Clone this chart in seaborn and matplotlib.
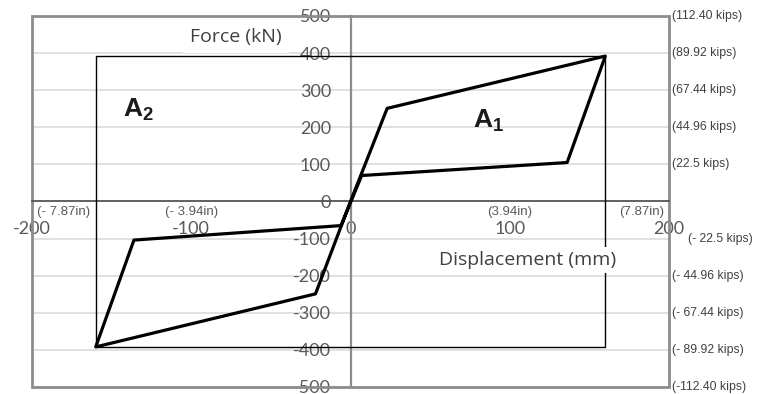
import pandas as pd
import matplotlib.pyplot as plt
import matplotlib.patches as mpatches
import matplotlib.transforms as mtrans
import seaborn as sns

# Hysteresis loop (displacement mm, force kN)
disp = [0, 23, 160, 136, 7, -6, -136, -160, -22, 0]
force = [0, 251, 392, 105, 70, -65, -104, -392, -249, 0]

# Bounding rectangle of the loop
rect_disp = [-160, 160]
rect_force = [-393, 393]

x_ticks = [-200, -100, 0, 100, 200]
x_labels = ['-200', '-100', '0', '100', '200']
y_ticks = [500, 400, 300, 200, 100, 0, -100, -200, -300, -400, -500]
y_labels = ['500', '400', '300', '200', '100', '0', '-100', '-200', '-300', '-400', '-500']

kips_ticks = [500, 400, 300, 200, 100, -100, -200, -300, -400, -500]
kips_labels = ['(112.40 kips)', '(89.92 kips)', '(67.44 kips)', '(44.96 kips)', '(22.5 kips)',
               '(- 22.5 kips)', '(- 44.96 kips)', '(- 67.44 kips)', '(- 89.92 kips)', '(-112.40 kips)']
inch_pos = [-197, -100, 100, 197]
inch_labels = ['(- 7.87in)', '(- 3.94in)', '(3.94in)', '(7.87in)']

sns.set_style("white")
plt.rcParams['font.family'] = ['Lato', 'DejaVu Sans']
plt.rcParams['mathtext.fontset'] = 'custom'
plt.rcParams['mathtext.rm'] = 'Liberation Sans'
plt.rcParams['mathtext.bf'] = 'Liberation Sans:bold'

df = pd.DataFrame({'disp': disp, 'force': force})

fig = plt.figure(figsize=(7.64, 3.94), dpi=100)
ax = fig.add_axes([0.0419, 0.0178, 0.8338, 0.9416])

ax.set_xlim(-200, 200)
ax.set_ylim(-500, 500)
ax.set_yticks(y_ticks)
ax.set_yticklabels(y_labels)
ax.set_xticks(x_ticks)
ax.set_xticklabels(x_labels)
ax.yaxis.grid(True, color='#dcdcdc', lw=1.2, zorder=0)
ax.xaxis.grid(False)
ax.set_axisbelow(True)

# axes cross at zero
ax.spines['left'].set_position(('data', 0))
ax.spines['bottom'].set_position(('data', 0))
ax.spines['left'].set_color('#8c8c8c')
ax.spines['left'].set_linewidth(1.6)
ax.spines['bottom'].set_color('#4d4d4d')
ax.spines['bottom'].set_linewidth(1.2)
ax.spines['top'].set_visible(False)
ax.spines['right'].set_visible(False)
ax.tick_params(axis='both', length=0, labelsize=13, labelcolor='#595959', pad=14)

# outer frame
ax.add_patch(mpatches.Rectangle((0, 0), 1, 1, transform=ax.transAxes, fill=False,
                                ec='#8c8c8c', lw=2, clip_on=False, zorder=2))

# loop and its bounding box
ax.add_patch(mpatches.Rectangle((rect_disp[0], rect_force[0]), rect_disp[1] - rect_disp[0],
                                rect_force[1] - rect_force[0], fill=False, ec='black', lw=1.0, zorder=4))
sns.lineplot(data=df, x='disp', y='force', sort=False, estimator=None, color='black',
             lw=2.3, ax=ax, zorder=5)
ax.set_xlabel('')
ax.set_ylabel('')

# axis titles inside the plot
ax.text(-72, 443, 'Force (kN)', ha='center', va='center', fontsize=14, color='#404040', zorder=3,
        family='Open Sans', bbox=dict(facecolor='white', edgecolor='none', pad=5))
ax.text(111, -158, 'Displacement (mm)', ha='center', va='center', fontsize=14, color='#404040',
        family='Open Sans', zorder=6, bbox=dict(facecolor='white', edgecolor='none', pad=3))

# area labels
ax.text(-143, 247, r'$\mathbf{A}_{\mathbf{2}}$', ha='left', va='center', fontsize=19, color='#1a1a1a')
ax.text(77, 217, r'$\mathbf{A}_{\mathbf{1}}$', ha='left', va='center', fontsize=19, color='#1a1a1a')

# inch labels
for xp, lab in zip(inch_pos, inch_labels):
    ha = 'left' if xp < -150 else ('right' if xp > 150 else 'center')
    ax.text(xp, -28, lab, ha=ha, va='center', fontsize=9.5, color='#595959',
            family='Liberation Sans')

# kips labels on the right
trans = mtrans.blended_transform_factory(ax.transAxes, ax.transData)
for yp, lab in zip(kips_ticks, kips_labels):
    xo = 1.03 if yp == -100 else 1.005
    ax.text(xo, yp, lab, transform=trans, ha='left', va='center', fontsize=8.8,
            color='#404040', family='Liberation Sans', clip_on=False)

fig.savefig('out.png', dpi=100)
